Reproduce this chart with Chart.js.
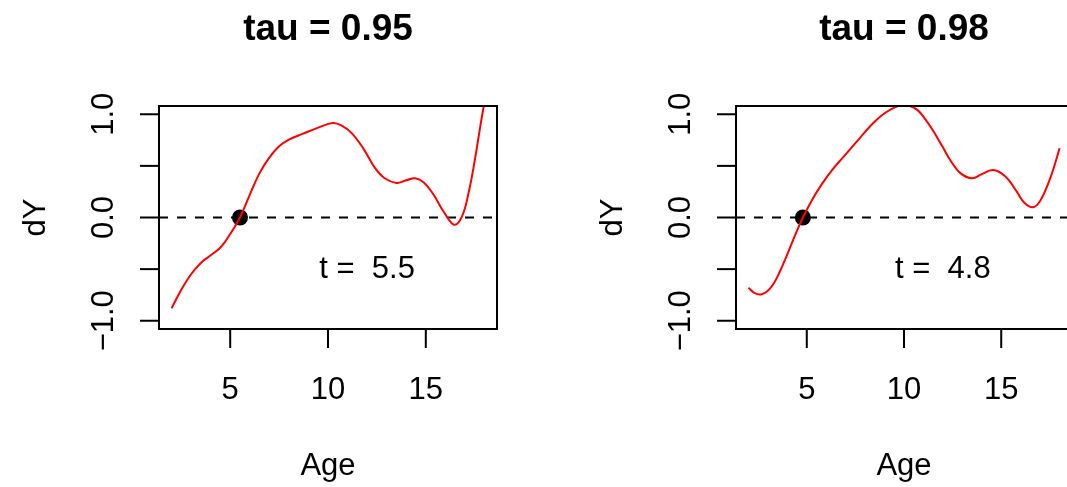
<!DOCTYPE html>
<html>
<head>
<meta charset="utf-8">
<script src="https://cdn.jsdelivr.net/npm/chart.js@4/dist/chart.umd.min.js"></script>
<style>
  html, body { margin: 0; padding: 0; background: #fff; overflow: hidden; width: 1067px; height: 487px; }
  canvas { position: absolute; top: 0; }
  #c1 { left: 0; }
  #c2 { left: 533px; }
</style>
</head>
<body>
<canvas id="c1" width="533" height="487"></canvas>
<canvas id="c2" width="547" height="487"></canvas>
<script>
/* dY(Age) para dos cuantiles, estilo R base */
var ages95 = [2.0, 2.5, 3.0, 3.5, 3.9, 4.5, 5.0, 5.5, 6.0, 6.5, 7.0, 7.5, 8.0, 8.7, 9.5, 10.25, 10.7, 11.2, 11.8, 12.4, 12.9, 13.5, 14.0, 14.45, 14.9, 15.4, 15.9, 16.45, 16.85, 17.2, 17.5, 17.8, 18.0];
var dY95   = [-0.88, -0.70, -0.55, -0.44, -0.38, -0.29, -0.16, 0.0, 0.22, 0.43, 0.58, 0.69, 0.755, 0.81, 0.87, 0.915, 0.89, 0.82, 0.67, 0.48, 0.38, 0.335, 0.36, 0.38, 0.34, 0.22, 0.06, -0.07, 0.01, 0.25, 0.55, 0.9, 1.12];

var ages98 = [2.0, 2.3, 2.65, 3.0, 3.3, 3.6, 3.95, 4.4, 4.8, 5.3, 5.8, 6.3, 6.9, 7.5, 8.0, 8.5, 9.0, 9.5, 9.9, 10.3, 10.7, 11.1, 11.5, 12.0, 12.4, 12.9, 13.5, 14.0, 14.55, 15.0, 15.4, 15.8, 16.2, 16.65, 17.0, 17.4, 17.7, 18.0];
var dY98   = [-0.68, -0.73, -0.745, -0.71, -0.64, -0.53, -0.38, -0.17, 0.0, 0.18, 0.33, 0.46, 0.59, 0.72, 0.83, 0.93, 1.01, 1.065, 1.09, 1.08, 1.04, 0.95, 0.84, 0.68, 0.55, 0.43, 0.38, 0.42, 0.46, 0.43, 0.36, 0.25, 0.14, 0.1, 0.16, 0.32, 0.48, 0.67];

var titles = ['tau = 0.95', 'tau = 0.98'];
var crossings = [5.5, 4.8];
var xTicks = [5, 10, 15];
var xTickLabels = ['5', '10', '15'];
var yTicks = [-1, -0.5, 0, 0.5, 1];
var yTickLabels = ['\u22121.0', '', '0.0', '', '1.0'];

var FONT = '"Liberation Sans", Arial, Helvetica, sans-serif';

function pts(xs, ys) {
  return xs.map(function (x, i) { return { x: x, y: ys[i] }; });
}

var rAxes = {
  id: 'rAxes',
  beforeDatasetsDraw: function (chart) {
    var ctx = chart.ctx, a = chart.chartArea;
    var y0 = chart.scales.y.getPixelForValue(0);
    ctx.save();
    ctx.strokeStyle = '#000';
    ctx.lineWidth = 2;
    ctx.setLineDash([9, 9]);
    ctx.beginPath();
    ctx.moveTo(a.left, y0);
    ctx.lineTo(a.right, y0);
    ctx.stroke();
    ctx.restore();
  },
  afterDraw: function (chart) {
    var ctx = chart.ctx, a = chart.chartArea;
    var sx = chart.scales.x, sy = chart.scales.y;
    var o = chart.options.plugins.rAxes;
    ctx.save();
    ctx.strokeStyle = '#000';
    ctx.fillStyle = '#000';
    ctx.lineWidth = 2;
    ctx.strokeRect(a.left, a.top, a.right - a.left, a.bottom - a.top);

    ctx.font = '31px ' + FONT;
    ctx.textAlign = 'center';
    ctx.textBaseline = 'alphabetic';
    xTicks.forEach(function (v, i) {
      var px = sx.getPixelForValue(v);
      ctx.beginPath();
      ctx.moveTo(px, a.bottom);
      ctx.lineTo(px, a.bottom + 19);
      ctx.stroke();
      ctx.fillText(xTickLabels[i], px, a.bottom + 70);
    });
    yTicks.forEach(function (v, i) {
      var py = sy.getPixelForValue(v);
      ctx.beginPath();
      ctx.moveTo(a.left - 19, py);
      ctx.lineTo(a.left, py);
      ctx.stroke();
      if (yTickLabels[i]) {
        ctx.save();
        ctx.translate(a.left - 46, py);
        ctx.rotate(-Math.PI / 2);
        ctx.fillText(yTickLabels[i], 0, 0);
        ctx.restore();
      }
    });

    var cx = (a.left + a.right) / 2;
    ctx.fillText('Age', cx, a.bottom + 146);
    ctx.save();
    ctx.translate(a.left - 114, (a.top + a.bottom) / 2);
    ctx.rotate(-Math.PI / 2);
    ctx.fillText('dY', 0, 0);
    ctx.restore();

    ctx.textBaseline = 'middle';
    ctx.fillText('t =  ' + o.cross.toFixed(1), sx.getPixelForValue(12), sy.getPixelForValue(-0.5));

    ctx.font = 'bold 37px ' + FONT;
    ctx.textBaseline = 'alphabetic';
    ctx.fillText(o.title, cx, 40);
    ctx.restore();
  }
};

function makePanel(id, xs, ys, title, cross, pad) {
  return new Chart(document.getElementById(id), {
    type: 'line',
    data: {
      datasets: [
        {
          data: pts(xs, ys),
          borderColor: '#ff0000',
          borderWidth: 2,
          pointRadius: 0,
          tension: 0.4,
          fill: false
        },
        {
          type: 'scatter',
          data: [{ x: cross, y: 0 }],
          pointRadius: 8,
          pointBackgroundColor: '#000',
          pointBorderColor: '#000',
          pointBorderWidth: 0
        }
      ]
    },
    options: {
      responsive: false,
      animation: false,
      devicePixelRatio: 1,
      layout: { padding: pad },
      plugins: {
        legend: { display: false },
        tooltip: { enabled: false },
        rAxes: { title: title, cross: cross }
      },
      scales: {
        x: { type: 'linear', min: 1.36, max: 18.64, display: false },
        y: { type: 'linear', min: -1.08, max: 1.08, display: false }
      }
    },
    plugins: [rAxes]
  });
}

makePanel('c1', ages95, dY95, titles[0], crossings[0], { left: 159, right: 36, top: 106, bottom: 158 });
makePanel('c2', ages98, dY98, titles[1], crossings[1], { left: 203, right: 6.5, top: 106, bottom: 158 });
</script>
</body>
</html>
